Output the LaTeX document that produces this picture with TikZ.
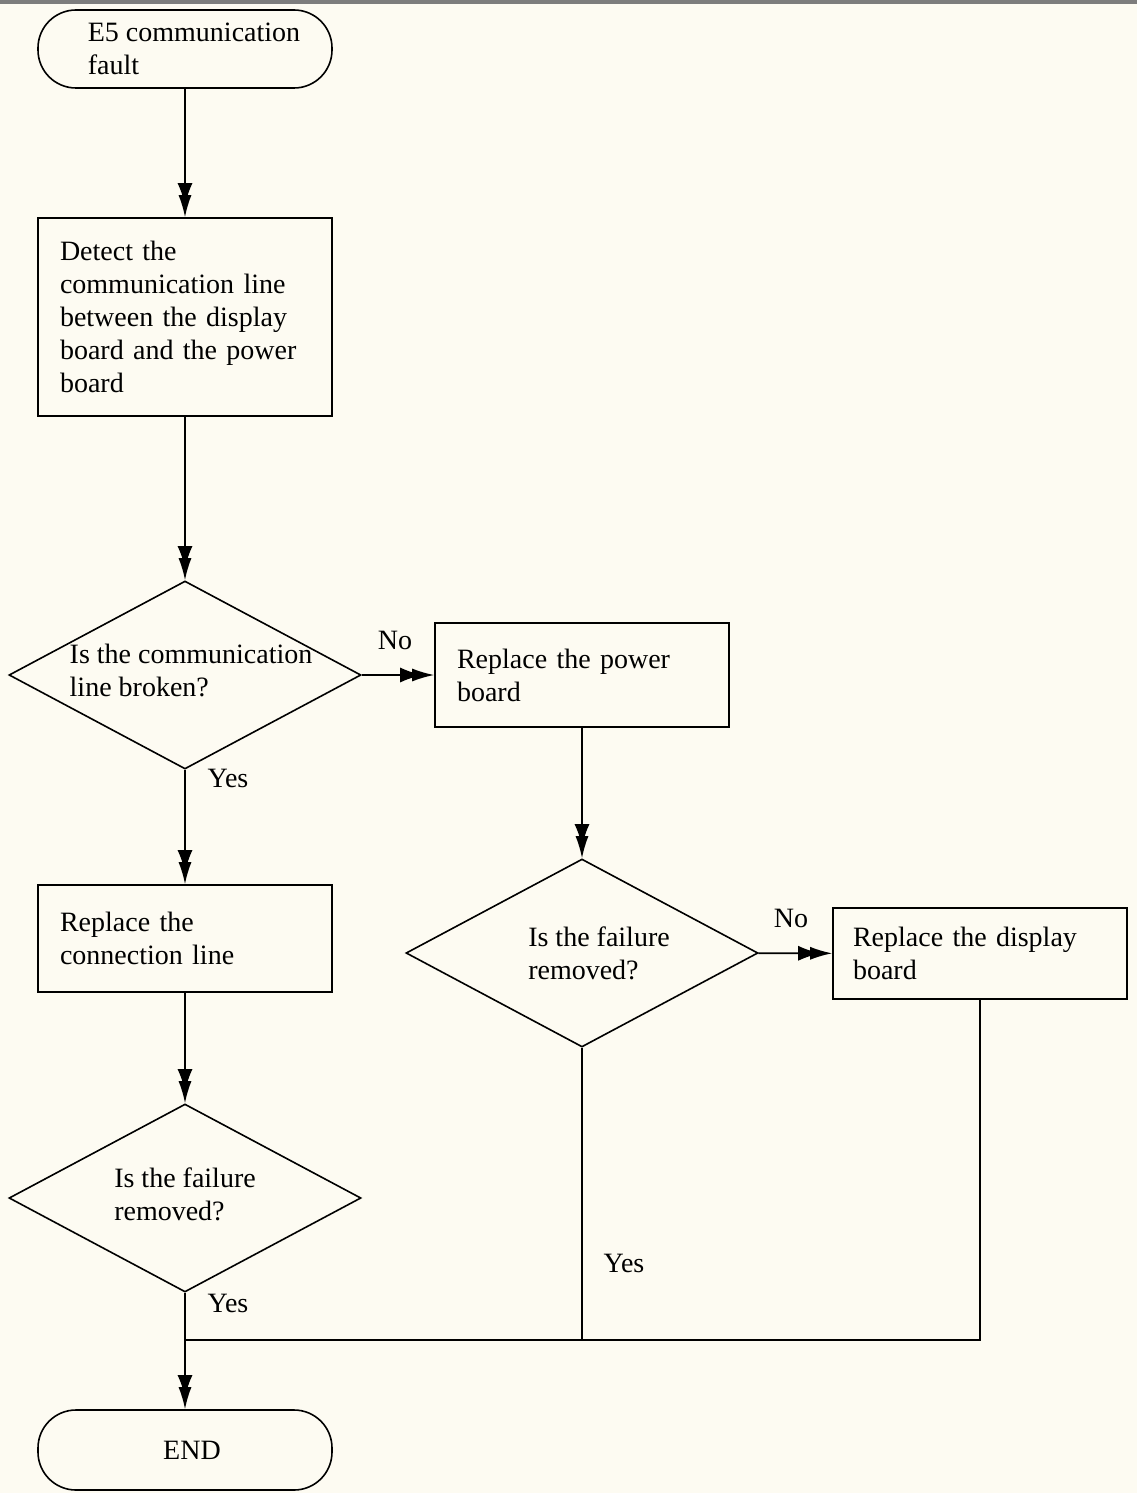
\documentclass[tikz,border=0pt]{standalone}
\usepackage{fontspec}
\setmainfont{Liberation Serif}
\usepackage{xcolor}
\usepackage{tikz}
\usetikzlibrary{shapes.geometric,arrows.meta,positioning,calc}
\definecolor{paper}{RGB}{253,251,242}
\definecolor{edge}{RGB}{125,125,125}

\begin{document}
\begin{tikzpicture}[
    x=0.5pt, y=-0.5pt,
    every node/.style={font=\fontsize{14}{16.5}\selectfont},
    term/.style={draw, rounded corners=19pt, minimum width=147pt, line width=0.8pt},
    proc/.style={draw, minimum width=147pt, text width=125pt, inner xsep=11pt, align=left, line width=0.8pt},
    decision/.style={draw, diamond, minimum width=176pt, minimum height=94pt, inner sep=0pt, line width=0.8pt},
    qtext/.style={align=left},
    flow/.style={-{Latex[length=11pt,width=7.5pt,sep=-5pt] Latex[length=11pt,width=6.5pt]}, line width=0.8pt},
    line/.style={line width=0.8pt},
    lbl/.style={inner sep=0pt}
]

    % --- Page ---
    \fill[paper] (0,0) rectangle (1137,1493);
    \fill[edge] (0,0) rectangle (1137,4);

    % --- Nodes ---
    % Left column
    \node[term, minimum height=39pt, align=left] (start) at (185,49)
        {\hspace*{9pt}E5 communication\\\hspace*{9pt}fault};
    \node[proc, minimum height=99pt] (detect) at (185,317)
        {Detect the\\communication line\\between the display\\board and the power\\board};
    \node[decision, label={[qtext, xshift=3pt, yshift=2.5pt]center:{Is the communication\\line broken?}}] (d1) at (185,675) {};
    \node[proc, minimum height=53.5pt] (conn) at (185,938.5) {Replace the\\connection line};
    \node[decision, label={[qtext, yshift=2pt]center:{Is the failure\\removed?}}] (d3) at (185,1198) {};
    \node[term, minimum height=40pt] (end) at (185,1450) {\hspace*{7pt}END};

    % Middle column
    \node[proc, minimum height=52pt] (power) at (582,675) {Replace the power\\board};
    \node[decision, label={[qtext, xshift=8.5pt]center:{Is the failure\\removed?}}] (d2) at (582,953) {};

    % Right column
    \node[proc, minimum width=147pt, minimum height=45.5pt, inner xsep=10pt, text width=127pt] (display) at (980,953.5)
        {Replace the display\\board};

    \coordinate (join) at (185,1340);

    % --- Edges ---
    \draw[flow] (start) -- (detect);
    \draw[flow] (detect) -- (d1);
    \draw[flow] (d1) -- (power);
    \draw[flow] (d1) -- (conn);
    \draw[flow] (conn) -- (d3);
    \draw[flow] (power) -- (d2);
    \draw[flow] (d2) -- (display);
    \draw[flow] (d3) -- (end);
    \draw[line] (d2.south) -- (d2.south |- join);
    \draw[line] (display.south) -- (display.south |- join) -- (join);

    % --- Labels ---
    \node[lbl] (no1) at (395,640) {No};
    \node[lbl] (yes1) at (228,778) {Yes};
    \node[lbl] (no2) at (791,918) {No};
    \node[lbl] (yes2) at (624,1263) {Yes};
    \node[lbl] (yes3) at (228,1303) {Yes};

\end{tikzpicture}
\end{document}
